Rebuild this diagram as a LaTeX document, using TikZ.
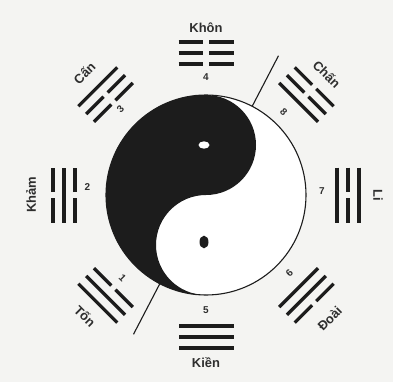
\documentclass[tikz,border=0pt]{standalone}
\usepackage{fontspec}
\setmainfont{Liberation Sans}
\usetikzlibrary{calc}
\definecolor{bg}{HTML}{F4F4F2}
\definecolor{ink}{HTML}{1C1C1C}
\definecolor{txt}{HTML}{2E2E2E}
\newcommand\trigline[2]{\ifnum#2=1 \draw[bar] (-27.5,#1)--(27.5,#1);\else \draw[bar] (-27.5,#1)--(-3,#1) (3,#1)--(27.5,#1);\fi}
\newcommand\trigram[4]{\begin{scope}[shift={(C)}, rotate=#1-90]\trigline{131}{#2}\trigline{142}{#3}\trigline{153}{#4}\end{scope}}
\begin{document}
\begin{tikzpicture}[x=1bp,y=1bp,
  bar/.style={line width=3.3bp, draw=ink, line cap=butt},
  lbl/.style={font=\bfseries\fontsize{13}{15}\selectfont, text=txt, inner sep=0pt},
  num/.style={font=\bfseries\fontsize{10}{11}\selectfont, text=txt, inner sep=0pt},
  thinline/.style={line width=1.1bp, draw=ink}]
\fill[bg] (0,0) rectangle (393,-382);
\useasboundingbox (0,0) rectangle (393,-382);
\coordinate (C) at (206,-195);
% yin-yang
\fill[white] (C) circle[radius=100bp];
\fill[ink] ($(C)+(0,100bp)$) arc[start angle=90, end angle=270, radius=100bp]
  arc[start angle=270, end angle=90, radius=50bp]
  arc[start angle=-90, end angle=90, radius=50bp] -- cycle;
\draw[thinline] (C) circle[radius=100bp];
\fill[white] ($(C)+(-2,50)$) ellipse[x radius=5.5bp, y radius=3.7bp];
\fill[ink] ($(C)+(-2,-47)$) ellipse[x radius=4.5bp, y radius=6.3bp];
% diameter line ends
\coordinate (la) at ($(C)+(62.5:100bp)$);
\coordinate (lb) at ($(C)+(62.5:157bp)$);
\coordinate (lc) at ($(C)+(242.5:100bp)$);
\coordinate (ld) at ($(C)+(242.5:157bp)$);
\draw[thinline] (la) -- (lb);
\draw[thinline] (lc) -- (ld);
% trigrams (inner to outer)
\trigram{90}{0}{0}{0}
\trigram{270}{1}{1}{1}
\trigram{180}{0}{1}{0}
\trigram{0}{1}{0}{1}
\trigram{135}{0}{0}{1}
\trigram{45}{1}{0}{0}
\trigram{225}{0}{1}{1}
\trigram{315}{1}{1}{0}
% labels
\node[lbl] (khon) at ($(C)+(90:167bp)$) {Khôn};
\node[lbl] (kien) at ($(C)+(270:168bp)$) {Kiền};
\node[lbl, rotate=90] (kham) at ($(C)+(180:175bp)$) {Khảm};
\node[lbl, rotate=-90] (li) at ($(C)+(0:172bp)$) {Li};
\node[lbl, rotate=45] (can) at ($(C)+(135:172bp)$) {Cấn};
\node[lbl, rotate=-45] (chan) at ($(C)+(45:171bp)$) {Chấn};
\node[lbl, rotate=-45] (ton) at ($(C)+(225:171bp)$) {Tốn};
\node[lbl, rotate=45] (doai) at ($(C)+(315:175bp)$) {Đoài};
% numbers
\node[num] (n4) at ($(C)+(90:118bp)$) {4};
\node[num] (n5) at ($(C)+(270:115bp)$) {5};
\node[num] (n2) at ($(C)+(176:119bp)$) {2};
\node[num] (n7) at ($(C)+(2:116bp)$) {7};
\node[num, rotate=45] (n3) at ($(C)+(135:121bp)$) {3};
\node[num, rotate=-45] (n8) at ($(C)+(47:114bp)$) {8};
\node[num, rotate=-45] (n1) at ($(C)+(225:118bp)$) {1};
\node[num, rotate=45] (n6) at ($(C)+(317:114bp)$) {6};
\end{tikzpicture}
\end{document}
